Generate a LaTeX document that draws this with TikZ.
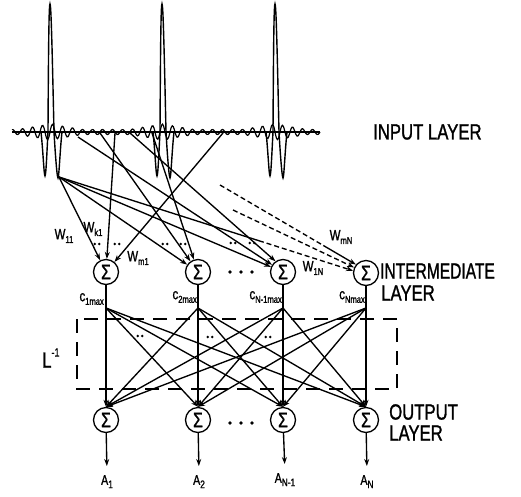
\documentclass[tikz,border=0pt]{standalone}
\usepackage{graphicx}
\usepackage{fontspec}
\setmainfont{Liberation Sans}[FakeStretch=0.8]
\newfontfamily\heavy{Liberation Sans}[FakeStretch=0.76,FakeBold=1.2]
\usetikzlibrary{arrows.meta,calc}
\newcommand\sbs[2]{\raisebox{-0.45ex}{\fontsize{#1}{#1}\selectfont #2}}
\begin{document}
\begin{tikzpicture}[x=1pt,y=-1pt,
  >={Stealth[length=7pt,width=5pt]},
  sig/.style={line width=1.9pt},
  rip/.style={line width=1.2pt},
  conn/.style={line width=1.35pt,->},
  dconn/.style={line width=1.35pt,dash pattern=on 5pt off 3pt},
  sumnode/.style={circle,draw,line width=1.3pt,minimum size=25pt,inner sep=0pt,font=\heavy\fontsize{21}{21}\selectfont},
  big/.style={font=\heavy\fontsize{22}{22}\selectfont,inner sep=0pt,anchor=west},
  wlab/.style={font=\heavy\fontsize{15}{15}\selectfont,inner sep=0pt},
  alab/.style={font=\heavy\fontsize{14}{14}\selectfont,inner sep=0pt,anchor=north},
  lbox/.style={dash pattern=on 14pt off 9pt,line width=1.5pt},
  dotpair/.style={radius=1.4pt}]
\useasboundingbox (0,0) rectangle (521,496);

% ---- input signal
\draw[sig] (12,132) -- (320,132);
\draw[rip] plot[domain=12:320,samples=320,smooth]
  (\x,{132-(2.5+5.5*(max(0,1-abs(\x-50)/32)+max(0,1-abs(\x-162)/32)+max(0,1-abs(\x-275)/32)))*sin(36*\x)});
\foreach \s in {50,162,275}{
  \draw[line width=1.4pt] ({\s-9},132) .. controls ({\s-7},150) and ({\s-6},176) .. ({\s-5},176)
    .. controls ({\s-4},176) and ({\s-3},150) .. ({\s-2},132)
    .. controls ({\s-1.5},40) and ({\s-1},4) .. (\s,4)
    .. controls ({\s+1},4) and ({\s+2},40) .. ({\s+4},132)
    .. controls ({\s+5},150) and ({\s+7},178) .. ({\s+8},178)
    .. controls ({\s+9},178) and ({\s+10},150) .. ({\s+12},132);
}
\node[big] (inl) at (373,132) {INPUT LAYER};

% ---- input sample points
\coordinate (iA) at (59,177);
\coordinate (iB) at (78,137);
\coordinate (iC) at (100,133);
\coordinate (iD) at (115,133);
\coordinate (iE) at (130,133);
\coordinate (iF) at (152,133);
\coordinate (iG) at (223,133);
\coordinate (q1) at (220,185);
\coordinate (q2) at (233,210);

% ---- intermediate layer
\node[sumnode] (n1) at (106,272) {Σ};
\node[sumnode] (n2) at (198,272) {Σ};
\node[sumnode] (n3) at (283,272) {Σ};
\node[sumnode] (n4) at (366,273) {Σ};
\node[big] (intl) at (380,271) {\scalebox{0.93}[1]{INTERMEDIATE}};
\node[big] (intl2) at (381,293) {LAYER};

\draw[conn] (iA) -- (n1);
\draw[conn] (iD) -- (n1);
\draw[conn] (iG) -- (n1);
\draw[conn] (iA) -- (n2);
\draw[conn] (iC) -- (n2);
\draw[conn] (iF) -- (n2);
\draw[conn] (iA) -- (n3);
\draw[conn] (iB) -- (n3);
\draw[conn] (iE) -- (n3.125);
\coordinate (a4m) at ($(iA)!0.68!(n4.170)$);
\draw[line width=1.35pt] (iA) -- (a4m);
\draw[dconn,->] (a4m) -- (n4.170);
\coordinate (q1m) at ($(q1)!0.76!(n4.140)$);
\draw[dconn] (q1) -- (q1m);
\draw[conn] (q1m) -- (n4.140);
\draw[dconn,->] (q2) -- (n4.155);

\node[wlab] (w11) at (64,236) {W\sbs{10}{11}};
\node[wlab] (wk1) at (93,229) {W\sbs{10}{k1}};
\node[wlab] (wm1) at (138,258) {W\sbs{10}{m1}};
\node[wlab] (w1n) at (313,268) {W\sbs{10}{1N}};
\node[wlab] (wmn) at (341,237) {W\sbs{10}{mN}};

\foreach \p in {(97,244),(117,244),(165,244),(183,244),(233,243),(252,243),(140,336),(210,337),(268,337)}{
  \fill \p ++(-2.3,0) circle[dotpair] \p ++(2.3,0) circle[dotpair];
}
\foreach \xx in {230,241,252}{
  \fill (\xx,272) circle[radius=1.8pt];
  \fill (\xx,423) circle[radius=1.8pt];
}

% ---- L^-1 block
\coordinate (p1) at (106,308);
\coordinate (p2) at (198,308);
\coordinate (p3) at (283,308);
\coordinate (p4) at (366,308);
\node[wlab,anchor=east] (c1) at (104,299) {c\sbs{10}{1max}};
\node[wlab,anchor=east] (c2) at (197,297) {c\sbs{10}{2max}};
\node[wlab,anchor=east] (c3) at (282,297) {c\sbs{10}{N-1max}};
\node[wlab,anchor=east] (c4) at (365,297) {c\sbs{10}{Nmax}};
\draw[lbox] (77,319) rectangle (397,389);
\node[big] (linv) at (42,358) {L\raisebox{0.95ex}{\fontsize{12}{12}\selectfont -1}};

% ---- output layer
\node[sumnode] (o1) at (106,420) {Σ};
\node[sumnode] (o2) at (198,420) {Σ};
\node[sumnode] (o3) at (283,420) {Σ};
\node[sumnode] (o4) at (366,420) {Σ};
\node[big] (outl) at (389,412) {OUTPUT};
\node[big] (outl2) at (389,433) {LAYER};

\foreach \i in {1,2,3,4}{
  \draw[conn] (n\i) -- (o\i);
  \foreach \j in {1,2,3,4}{
    \ifnum\i=\j\else
      \draw[conn] (p\i) -- (o\j.north);
    \fi
  }
}

\node[alab] (A1) at (107,475) {A\sbs{11}{1}};
\node[alab] (A2) at (199,475) {A\sbs{11}{2}};
\node[alab] (A3) at (285,473) {A\sbs{11}{N-1}};
\node[alab] (A4) at (367,475) {A\sbs{11}{N}};
\foreach \i in {1,2,3,4}{
  \draw[conn,shorten >=9pt] (o\i) -- (A\i.north);
}
\end{tikzpicture}
\end{document}
